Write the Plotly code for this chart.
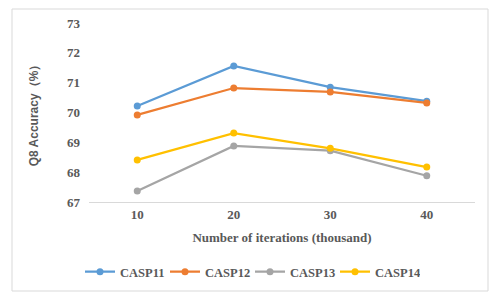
import plotly.graph_objects as go

categories = ["10", "20", "30", "40"]
casp11 = [70.22, 71.56, 70.85, 70.38]
casp12 = [69.92, 70.82, 70.69, 70.32]
casp13 = [67.37, 68.88, 68.72, 67.88]
casp14 = [68.41, 69.31, 68.80, 68.17]

series = [("CASP11", casp11, "#5B9BD5"), ("CASP12", casp12, "#ED7D31"),
          ("CASP13", casp13, "#A5A5A5"), ("CASP14", casp14, "#FFC000")]

fig = go.Figure()
for name, vals, col in series:
    fig.add_trace(go.Scatter(x=categories, y=vals, name=name, mode="lines+markers",
                             line=dict(color=col, width=2.25), marker=dict(color=col, size=7)))

L, R, T, B = 89, 27, 23, 96
pw, ph = 502 - L - R, 298 - T - B
def px(x): return (x - L) / pw
def py(y): return (298 - B - y) / ph

serif = "Liberation Serif, Times New Roman, serif"
fig.update_layout(
    width=502, height=298, margin=dict(l=L, r=R, t=T, b=B, autoexpand=False),
    paper_bgcolor="white", plot_bgcolor="white",
    font=dict(family=serif, color="#595959", size=12),
    showlegend=True,
    legend=dict(orientation="h", x=px(250), xanchor="center", y=py(272), yanchor="middle",
                font=dict(family=serif, size=12.5, color="#595959", weight="bold"),
                entrywidth=40, entrywidthmode="pixels", tracegroupgap=0, itemwidth=30),
    xaxis=dict(type="category", range=[-0.5, 3.5], showgrid=False, showline=True,
               linecolor="#D9D9D9", linewidth=1, ticks="",
               tickfont=dict(family=serif, size=13, color="#595959", weight="bold"),
               title=dict(text="Number of iterations (thousand)", standoff=12,
                          font=dict(family=serif, size=13, color="#595959", weight="bold"))),
    yaxis=dict(range=[67, 73], dtick=1, showgrid=False, zeroline=False, showline=False,
               ticks="", ticklabelstandoff=8,
               tickfont=dict(family=serif, size=13, color="#595959", weight="bold"),
               title=dict(text="Q8 Accuracy（%）", standoff=25,
                          font=dict(family="Liberation Sans", size=12, color="#595959", weight="bold"))),
    shapes=[dict(type="rect", xref="paper", yref="paper",
                 x0=px(12), x1=px(488), y0=py(291), y1=py(9),
                 line=dict(color="#D9D9D9", width=1), layer="below")],
)
fig.write_html("out.html", config={"displayModeBar": False},
               post_script="document.body.style.margin='0';document.body.style.padding='0';")
